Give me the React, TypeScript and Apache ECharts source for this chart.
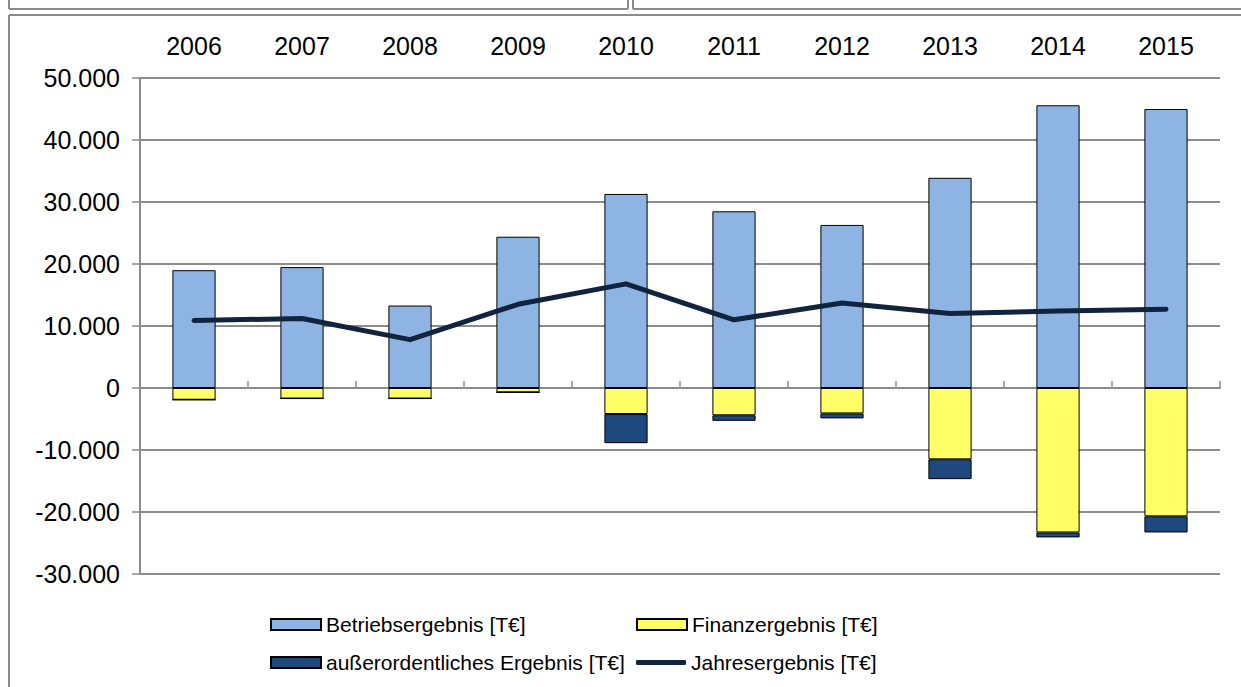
import React, { useEffect, useRef } from "react";
import * as echarts from "echarts";

const years = ["2006", "2007", "2008", "2009", "2010", "2011", "2012", "2013", "2014", "2015"];
const betriebsergebnis = [19000, 19500, 13300, 24400, 31300, 28500, 26300, 33900, 45600, 45000];
const finanzergebnis = [-1900, -1700, -1700, -700, -4200, -4400, -4100, -11500, -23300, -20700];
const ausserordentlich = [0, 0, 0, 0, -4700, -900, -800, -3200, -800, -2600];
const jahresergebnis = [10900, 11200, 7800, 13500, 16800, 11000, 13700, 12000, 12400, 12700];

const fmt = (v: number) => {
  const s = Math.abs(v).toString().replace(/\B(?=(\d{3})+(?!\d))/g, ".");
  return (v < 0 ? "-" : "") + s;
};

export default function App() {
  const ref = useRef<HTMLDivElement>(null);
  useEffect(() => {
    document.body.style.margin = "0";
    const chart = echarts.init(ref.current!, null, { renderer: "svg" });
    const font = "'Liberation Sans', Arial, sans-serif";
    const gray = "#8c8c8c";
    const legendBase = {
      orient: "vertical",
      padding: 0,
      itemWidth: 50,
      itemGap: 17,
      icon: "rect",
      textStyle: { fontSize: 21, color: "#000", fontFamily: font },
    };
    chart.setOption({
      animation: false,
      textStyle: { fontFamily: font },
      grid: { left: 140, right: 21, top: 78, bottom: 113 },
      xAxis: {
        type: "category",
        position: "top",
        data: years,
        axisLine: { show: true, lineStyle: { color: gray, width: 2 } },
        axisTick: { show: true, interval: 0, length: 7, lineStyle: { color: gray, width: 1.5 } },
        axisLabel: { color: "#000", fontSize: 25, margin: 20, fontFamily: font },
        splitLine: { show: false },
      },
      yAxis: {
        type: "value",
        min: -30000,
        max: 50000,
        interval: 10000,
        axisLine: { show: true, lineStyle: { color: gray, width: 2 } },
        axisTick: { show: true, length: 8, lineStyle: { color: gray, width: 1.5 } },
        axisLabel: { color: "#000", fontSize: 25, margin: 20, fontFamily: font, formatter: fmt },
        splitLine: { show: true, lineStyle: { color: gray, width: 2 } },
      },
      legend: [
        {
          ...legendBase,
          left: 270,
          top: 614,
          itemHeight: 11,
          data: ["Betriebsergebnis [T€]", "außerordentliches Ergebnis [T€]"],
        },
        {
          ...legendBase,
          left: 636,
          top: 614,
          itemHeight: 11,
          data: ["Finanzergebnis [T€]"],
        },
        {
          ...legendBase,
          left: 636,
          top: 652,
          itemHeight: 5,
          icon: "roundRect",
          data: ["Jahresergebnis [T€]"],
        },
      ],
      series: [
        {
          name: "Betriebsergebnis [T€]",
          type: "bar",
          stack: "total",
          barWidth: "40%",
          data: betriebsergebnis,
          itemStyle: { color: "#8EB4E3", borderColor: "#000", borderWidth: 1 },
        },
        {
          name: "Finanzergebnis [T€]",
          type: "bar",
          stack: "total",
          barWidth: "40%",
          data: finanzergebnis,
          itemStyle: { color: "#FFFF66", borderColor: "#000", borderWidth: 1 },
        },
        {
          name: "außerordentliches Ergebnis [T€]",
          type: "bar",
          stack: "total",
          barWidth: "40%",
          data: ausserordentlich,
          itemStyle: { color: "#1F497D", borderColor: "#000", borderWidth: 1 },
        },
        {
          name: "Jahresergebnis [T€]",
          type: "line",
          data: jahresergebnis,
          symbol: "none",
          lineStyle: { color: "#10243E", width: 5, cap: "round", join: "round" },
          itemStyle: { color: "#10243E" },
          z: 5,
        },
      ],
      graphic: [
        { type: "line", shape: { x1: 9, y1: 0, x2: 9, y2: 9 }, style: { stroke: gray, lineWidth: 2 } },
        { type: "line", shape: { x1: 9, y1: 9, x2: 628, y2: 9 }, style: { stroke: gray, lineWidth: 2 } },
        { type: "line", shape: { x1: 628, y1: 0, x2: 628, y2: 9 }, style: { stroke: gray, lineWidth: 2 } },
        { type: "line", shape: { x1: 633, y1: 0, x2: 633, y2: 9 }, style: { stroke: gray, lineWidth: 2 } },
        { type: "line", shape: { x1: 633, y1: 9, x2: 1241, y2: 9 }, style: { stroke: gray, lineWidth: 2 } },
        { type: "line", shape: { x1: 9, y1: 15, x2: 1241, y2: 15 }, style: { stroke: gray, lineWidth: 2 } },
        { type: "line", shape: { x1: 9, y1: 15, x2: 9, y2: 687 }, style: { stroke: gray, lineWidth: 2 } },
      ],
    });
    return () => chart.dispose();
  }, []);
  return <div ref={ref} style={{ width: 1241, height: 687 }} />;
}
